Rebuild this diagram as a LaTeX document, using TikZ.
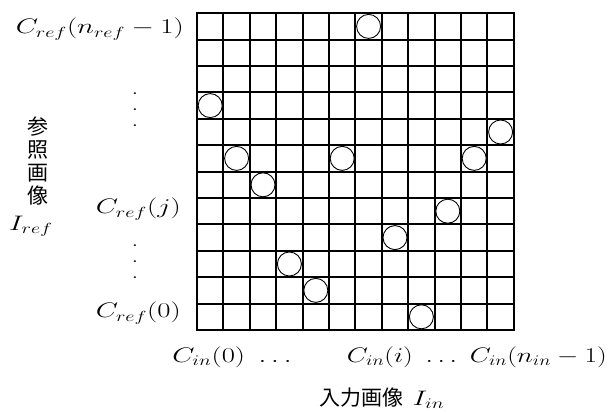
\RequirePackage{fix-cm}
\documentclass[tikz,border=0pt]{standalone}
\usepackage{fontspec}
\newfontfamily\jpfont{Noto Sans CJK JP}
\newcommand{\puntosv}{\vbox{\baselineskip=16pt\lineskiplimit=0pt\hbox{.}\hbox{.}\hbox{.}}}
\tikzset{
  lab/.style={font=\fontsize{21}{25}\selectfont, xscale=1.37, transform shape, inner sep=0pt},
  jp/.style={font=\jpfont\fontsize{21}{23}\selectfont, inner sep=0pt, align=center},
  linea/.style={line width=1.9pt},
  celda/.style={circle, draw, fill=white, line width=0.9pt, minimum size=24pt, inner sep=0pt}
}
\begin{document}
\begin{tikzpicture}[x=1pt, y=1pt]
    \useasboundingbox (0,0) rectangle (612,412);
    \def\cs{26.4}

    % Cuadricula
    \foreach \k in {1,...,11} {
        \draw[linea] (197+\cs*\k, 82) -- (197+\cs*\k, 398.8);
        \draw[linea] (197, 82+\cs*\k) -- (513.8, 82+\cs*\k);
    }
    \draw[line width=2.2pt] (197,82) rectangle (513.8,398.8);

    % Correspondencias
    \foreach \c/\r in {6/0, 0/3, 11/4, 1/5, 5/5, 10/5, 2/6, 9/7, 7/8, 3/9, 4/10, 8/11}
        \node[celda] (p\c-\r) at (197+\cs*\c+\cs/2, 398.8-\cs*\r-\cs/2) {};

    % Eje de referencia
    \node[lab, anchor=base east] (crn) at (184,378) {$C_{ref}(n_{ref}-1)$};
    \node[lab] (pv1) at (135,302) {\puntosv};
    \node[lab, anchor=base east] (crj) at (181,198) {$C_{ref}(j)$};
    \node[lab] (pv2) at (135,150) {\puntosv};
    \node[lab, anchor=base east] (cr0) at (181,94) {$C_{ref}(0)$};
    \node[jp] (ref) at (38,251) {参\\照\\画\\像};
    \node[lab] (iref) at (31,186) {$I_{ref}$};

    % Eje de entrada
    \node[lab, anchor=base west] (ci0) at (172,50) {$C_{in}(0)\ \ldots$};
    \node[lab, xscale=0.95, anchor=base east] (cii) at (607,50) {$C_{in}(i)\ \ldots\ C_{in}(n_{in}-1)$};
    \node[jp, anchor=base west] (ent) at (319,7) {入力画像};
    \node[lab, anchor=base west] (iin) at ([xshift=9pt]ent.base east) {$I_{in}$};
\end{tikzpicture}
\end{document}
